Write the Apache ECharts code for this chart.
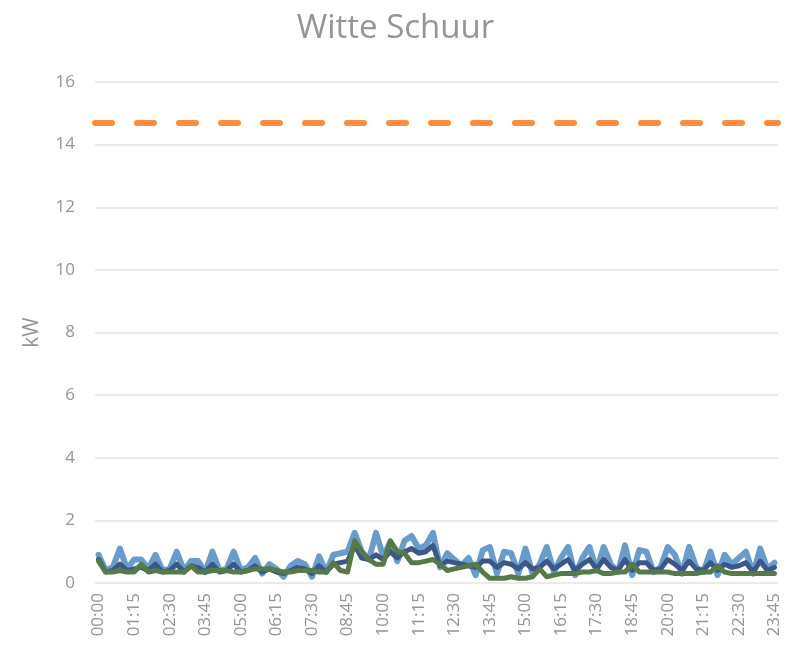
<!DOCTYPE html>
<html lang="nl">
<head>
    <meta charset="UTF-8">
    <title>Witte Schuur</title>
    <script type="text/javascript" src="https://cdn.jsdelivr.net/npm/echarts@6/dist/echarts.min.js"></script>
    <style>
        html, body { margin: 0; padding: 0; background: #fff; }
        #myChart { width: 791px; height: 653px; }
    </style>
</head>
<body>
<div id="myChart"></div>

<script type="text/javascript">
    // tijdstippen per kwartier
    var times = [];
    for (var h = 0; h < 24; h++) {
        for (var m = 0; m < 60; m += 15) {
            times.push((h < 10 ? "0" + h : "" + h) + ":" + (m === 0 ? "00" : m));
        }
    }

    // lichtblauw
    var seriesA = [
        0.9, 0.4, 0.5, 1.1, 0.45, 0.75, 0.75, 0.45, 0.9, 0.4, 0.45, 1.0,
        0.4, 0.7, 0.7, 0.35, 1.0, 0.4, 0.45, 1.0, 0.4, 0.5, 0.8, 0.3,
        0.6, 0.45, 0.2, 0.55, 0.7, 0.6, 0.2, 0.85, 0.35, 0.9, 0.95, 1.0,
        1.6, 1.0, 0.75, 1.6, 0.85, 1.3, 0.7, 1.35, 1.5, 1.1, 1.2, 1.6,
        0.5, 0.95, 0.75, 0.55, 0.8, 0.25, 1.05, 1.15, 0.3, 1.0, 0.95, 0.3,
        1.1, 0.3, 0.6, 1.15, 0.35, 0.8, 1.15, 0.25, 0.8, 1.15, 0.4, 1.15,
        0.6, 0.35, 1.2, 0.25, 1.05, 1.0, 0.35, 0.5, 1.15, 0.9, 0.3, 1.15,
        0.5, 0.35, 1.0, 0.25, 0.9, 0.6, 0.8, 1.0, 0.3, 1.1, 0.45, 0.65
    ];
    // donkerblauw
    var seriesB = [
        0.75, 0.35, 0.4, 0.6, 0.4, 0.45, 0.5, 0.4, 0.6, 0.35, 0.4, 0.6,
        0.35, 0.55, 0.5, 0.35, 0.6, 0.35, 0.4, 0.6, 0.35, 0.4, 0.55, 0.35,
        0.45, 0.35, 0.3, 0.4, 0.5, 0.45, 0.3, 0.55, 0.35, 0.6, 0.65, 0.7,
        1.2, 0.8, 0.75, 0.9, 0.75, 1.0, 0.8, 1.0, 1.1, 0.95, 1.0, 1.2,
        0.55, 0.7, 0.65, 0.6, 0.55, 0.5, 0.7, 0.7, 0.5, 0.65, 0.6, 0.45,
        0.65, 0.45, 0.5, 0.7, 0.45, 0.6, 0.75, 0.4, 0.6, 0.75, 0.45, 0.75,
        0.5, 0.4, 0.75, 0.4, 0.65, 0.65, 0.4, 0.45, 0.75, 0.6, 0.4, 0.7,
        0.45, 0.4, 0.65, 0.4, 0.6, 0.5, 0.55, 0.65, 0.35, 0.7, 0.4, 0.5
    ];
    // groen
    var seriesC = [
        0.7, 0.35, 0.35, 0.4, 0.35, 0.35, 0.6, 0.35, 0.4, 0.35, 0.35, 0.35,
        0.35, 0.55, 0.35, 0.35, 0.4, 0.4, 0.4, 0.35, 0.35, 0.4, 0.45, 0.45,
        0.45, 0.4, 0.35, 0.35, 0.4, 0.4, 0.4, 0.35, 0.35, 0.65, 0.4, 0.35,
        1.35, 1.0, 0.75, 0.6, 0.6, 1.35, 1.0, 0.95, 0.65, 0.65, 0.7, 0.75,
        0.6, 0.4, 0.45, 0.5, 0.55, 0.6, 0.35, 0.15, 0.15, 0.15, 0.2, 0.15,
        0.15, 0.2, 0.45, 0.2, 0.25, 0.3, 0.3, 0.3, 0.35, 0.35, 0.4, 0.3,
        0.3, 0.35, 0.35, 0.6, 0.35, 0.35, 0.35, 0.35, 0.35, 0.3, 0.3, 0.3,
        0.3, 0.35, 0.35, 0.55, 0.35, 0.3, 0.3, 0.3, 0.3, 0.3, 0.3, 0.3
    ];
    // grenswaarde (oranje stippellijn)
    var limitKW = 14.7;

    var yTicks = { min: 0, max: 16, interval: 2 };

    var myChart = echarts.init(document.getElementById('myChart'));
    var grey = '#959595';

    function lineSeries(name, data, color, width) {
        return {
            name: name,
            type: 'line',
            data: data,
            symbol: 'none',
            lineStyle: { color: color, width: width, join: 'round', cap: 'round' },
            itemStyle: { color: color },
            animation: false
        };
    }

    var series = [
        lineSeries('A', seriesA, '#6a9ccb', 6),
        lineSeries('B', seriesB, '#3a5788', 5),
        lineSeries('C', seriesC, '#557a47', 5)
    ];
    series[2].markLine = {
        silent: true,
        symbol: 'none',
        label: { show: false },
        lineStyle: { color: '#ff8c3f', type: [17, 25], width: 6, cap: 'round' },
        data: [{ yAxis: limitKW }]
    };

    myChart.setOption({
        animation: false,
        title: {
            text: 'Witte Schuur',
            left: 'center',
            top: 7,
            textStyle: { color: grey, fontSize: 33, fontWeight: 'normal', fontFamily: 'Open Sans' }
        },
        grid: { left: 95, right: 13, top: 82, bottom: 70 },
        xAxis: {
            type: 'category',
            data: times,
            boundaryGap: true,
            axisLine: { show: false },
            axisTick: { show: false },
            axisLabel: {
                interval: 4,
                rotate: 90,
                color: grey,
                fontSize: 17,
                fontFamily: 'Open Sans',
                margin: 10
            }
        },
        yAxis: {
            type: 'value',
            min: yTicks.min,
            max: yTicks.max,
            interval: yTicks.interval,
            name: 'kW',
            nameLocation: 'middle',
            nameGap: 52,
            nameTextStyle: { color: grey, fontSize: 21, fontFamily: 'Open Sans' },
            axisLabel: { color: grey, fontSize: 17, fontFamily: 'Open Sans', margin: 20 },
            splitLine: { lineStyle: { color: '#e3e3e3', width: 1.5 } }
        },
        series: series
    });
</script>
</body>
</html>
